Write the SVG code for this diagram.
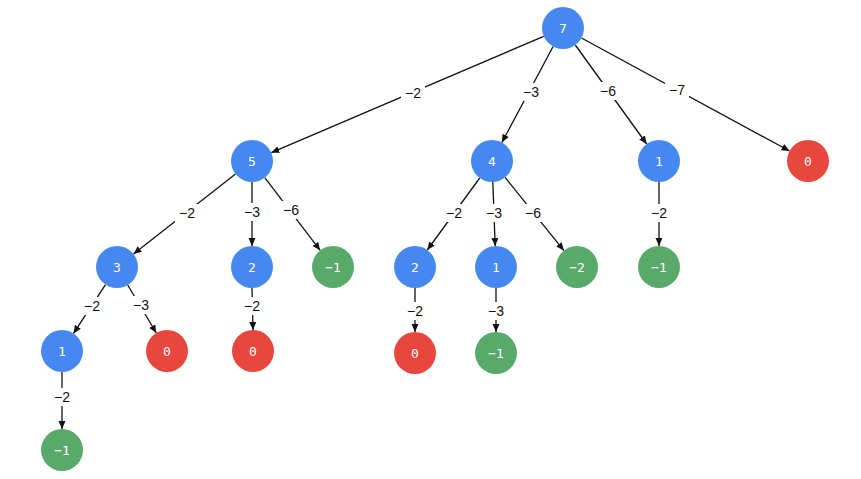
<svg xmlns="http://www.w3.org/2000/svg" width="861" height="479" viewBox="0 0 861 479">
<defs>
<marker id="ah" markerUnits="userSpaceOnUse" markerWidth="9" markerHeight="8" refX="8" refY="3.5" orient="auto">
<path d="M0,0 L8,3.5 L0,7 z" fill="#111"/>
</marker>
<style>
.e{stroke:#111;stroke-width:1.3;fill:none;marker-end:url(#ah)}
.lb{fill:#fff}
.lt{font-family:"Liberation Sans",Arial,sans-serif;font-size:14px;fill:#111;text-anchor:middle;dominant-baseline:central}
.b{fill:#4589F0}
.r{fill:#E8473E}
.g{fill:#58A96A}
.nt{font-family:"DejaVu Sans Mono",monospace;font-size:13px;fill:#fff;text-anchor:middle;dominant-baseline:central}
</style>
</defs>
<rect width="861" height="479" fill="#fff"/>
<g id="connectors">
<line class="e" x1="543.7" y1="36.3" x2="271.3" y2="152.7"/>
<line class="e" x1="553.1" y1="46.5" x2="501.9" y2="142.5"/>
<line class="e" x1="575.3" y1="45" x2="646.7" y2="144"/>
<line class="e" x1="581.5" y1="38" x2="789.5" y2="151"/>
<line class="e" x1="235.5" y1="174" x2="133.5" y2="254"/>
<line class="e" x1="252" y1="182" x2="252" y2="246"/>
<line class="e" x1="264.8" y1="177.7" x2="320.2" y2="250.3"/>
<line class="e" x1="479.7" y1="178" x2="427.3" y2="250"/>
<line class="e" x1="492.8" y1="182" x2="495.2" y2="246"/>
<line class="e" x1="505.1" y1="177.4" x2="563.9" y2="250.6"/>
<line class="e" x1="659" y1="182" x2="659" y2="246"/>
<line class="e" x1="105.5" y1="284.6" x2="73.5" y2="333.4"/>
<line class="e" x1="127.7" y1="285" x2="156.3" y2="333"/>
<line class="e" x1="252" y1="288" x2="253" y2="330"/>
<line class="e" x1="415" y1="288" x2="415" y2="332"/>
<line class="e" x1="496" y1="288" x2="496" y2="332"/>
<line class="e" x1="62" y1="372" x2="62" y2="429"/>
<g>
<rect class="lb" x="401" y="84" width="24" height="18"/><text class="lt" x="413" y="93">−2</text>
<rect class="lb" x="519" y="83" width="24" height="18"/><text class="lt" x="531" y="92">−3</text>
<rect class="lb" x="596" y="82" width="24" height="18"/><text class="lt" x="608" y="91">−6</text>
<rect class="lb" x="665" y="81" width="24" height="18"/><text class="lt" x="677" y="90">−7</text>
<rect class="lb" x="175" y="204" width="24" height="18"/><text class="lt" x="187" y="213">−2</text>
<rect class="lb" x="240" y="203" width="24" height="18"/><text class="lt" x="252" y="212">−3</text>
<rect class="lb" x="279" y="201" width="24" height="18"/><text class="lt" x="291" y="210">−6</text>
<rect class="lb" x="442" y="204" width="24" height="18"/><text class="lt" x="454" y="213">−2</text>
<rect class="lb" x="482" y="204" width="24" height="18"/><text class="lt" x="494" y="213">−3</text>
<rect class="lb" x="521" y="204" width="24" height="18"/><text class="lt" x="533" y="213">−6</text>
<rect class="lb" x="647" y="204" width="24" height="18"/><text class="lt" x="659" y="213">−2</text>
<rect class="lb" x="80" y="297" width="24" height="18"/><text class="lt" x="92" y="306">−2</text>
<rect class="lb" x="129" y="296" width="24" height="18"/><text class="lt" x="141" y="305">−3</text>
<rect class="lb" x="240" y="297" width="24" height="18"/><text class="lt" x="252" y="306">−2</text>
<rect class="lb" x="403" y="302" width="24" height="18"/><text class="lt" x="415" y="311">−2</text>
<rect class="lb" x="484" y="302" width="24" height="18"/><text class="lt" x="496" y="311">−3</text>
<rect class="lb" x="50" y="388" width="24" height="18"/><text class="lt" x="62" y="397">−2</text>
</g>
</g>
<g id="n7"><circle class="b" cx="563" cy="28" r="21"/><text class="nt" x="563" y="28">7</text></g>
<g id="n5"><circle class="b" cx="252" cy="161" r="21"/><text class="nt" x="252" y="161">5</text></g>
<g id="n4"><circle class="b" cx="492" cy="161" r="21"/><text class="nt" x="492" y="161">4</text></g>
<g id="n1a"><circle class="b" cx="659" cy="161" r="21"/><text class="nt" x="659" y="161">1</text></g>
<g id="n0a"><circle class="r" cx="808" cy="161" r="21"/><text class="nt" x="808" y="161">0</text></g>
<g id="n3"><circle class="b" cx="117" cy="267" r="21"/><text class="nt" x="117" y="267">3</text></g>
<g id="n2a"><circle class="b" cx="252" cy="267" r="21"/><text class="nt" x="252" y="267">2</text></g>
<g id="nm1a"><circle class="g" cx="333" cy="267" r="21"/><text class="nt" x="333" y="267">−1</text></g>
<g id="n2b"><circle class="b" cx="415" cy="267" r="21"/><text class="nt" x="415" y="267">2</text></g>
<g id="n1b"><circle class="b" cx="496" cy="267" r="21"/><text class="nt" x="496" y="267">1</text></g>
<g id="nm2"><circle class="g" cx="577" cy="267" r="21"/><text class="nt" x="577" y="267">−2</text></g>
<g id="nm1b"><circle class="g" cx="659" cy="267" r="21"/><text class="nt" x="659" y="267">−1</text></g>
<g id="n1c"><circle class="b" cx="62" cy="351" r="21"/><text class="nt" x="62" y="351">1</text></g>
<g id="n0b"><circle class="r" cx="167" cy="351" r="21"/><text class="nt" x="167" y="351">0</text></g>
<g id="n0c"><circle class="r" cx="253" cy="351" r="21"/><text class="nt" x="253" y="351">0</text></g>
<g id="n0d"><circle class="r" cx="415" cy="353" r="21"/><text class="nt" x="415" y="353">0</text></g>
<g id="nm1c"><circle class="g" cx="496" cy="353" r="21"/><text class="nt" x="496" y="353">−1</text></g>
<g id="nm1d"><circle class="g" cx="62" cy="450" r="21"/><text class="nt" x="62" y="450">−1</text></g>
</svg>
